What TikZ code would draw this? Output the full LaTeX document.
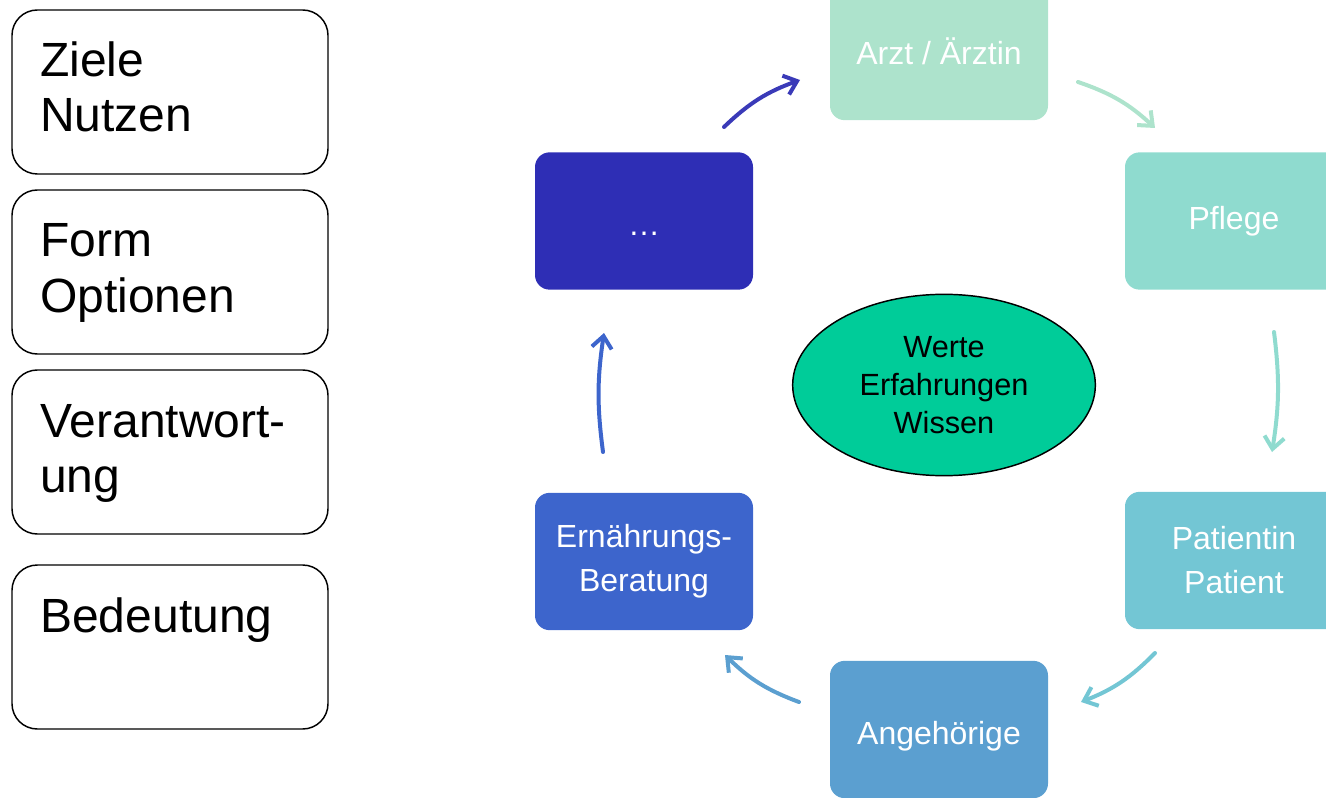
\documentclass[tikz,border=0pt]{standalone}
\usepackage{fontspec}
\setmainfont{Liberation Sans}
\usetikzlibrary{arrows.meta,shapes.geometric}
\definecolor{cArzt}{HTML}{ADE3CC}
\definecolor{cPflege}{HTML}{8FDBCF}
\definecolor{cPat}{HTML}{73C6D4}
\definecolor{cAng}{HTML}{5B9FD0}
\definecolor{cErn}{HTML}{3D65CC}
\definecolor{cDots}{HTML}{2E2EB5}
\definecolor{cDotsArrow}{HTML}{3A3AB8}
\definecolor{cEll}{HTML}{00CC99}
\newcommand{\lowerby}[2]{\raisebox{0pt}[0pt][0pt]{\raisebox{-#1}{#2}}}
\begin{document}
\begin{tikzpicture}[x=0.75pt,y=-0.75pt,
  leftbox/.style={draw=black, line width=1.1pt, rounded corners=19pt,
    minimum width=237pt, minimum height=123pt, inner sep=0pt},
  lefttext/.style={anchor=base west, inner sep=0pt, font=\fontsize{36}{41}\selectfont},
  rolebox/.style={rounded corners=11pt, minimum width=163.5pt, minimum height=103pt,
    text=white, align=center, font=\fontsize{24}{33}\selectfont, inner sep=0pt},
  cyc/.style={line width=3pt, line cap=round,
    -{Straight Barb[length=9pt,width=15pt,line width=3pt]}}]
\useasboundingbox (0,0) rectangle (1326,798);

% left boxes
\node[leftbox] (b1) at (170,92) {};
\node[leftbox] (b2) at (170,272) {};
\node[leftbox] (b3) at (170,452) {};
\node[leftbox] (b4) at (170,647) {};
\node[lefttext] (t1a) at (40,77) {Ziele};
\node[lefttext] (t1b) at (40,132) {Nutzen};
\node[lefttext] (t2a) at (40,257) {Form};
\node[lefttext] (t2b) at (40,312) {Optionen};
\node[lefttext] (t3a) at (40,437) {Verantwort-};
\node[lefttext] (t3b) at (40,492) {ung};
\node[lefttext] (t4a) at (40,632) {Bedeutung};

% cycle boxes
\node[rolebox, fill=cArzt] (arzt) at (939,51.5) {Arzt / Ärztin};
\node[rolebox, fill=cPflege] (pflege) at (1234,221) {Pflege};
\node[rolebox, fill=cPat] (pat) at (1234,560.5) {Patientin\\Patient};
\node[rolebox, fill=cAng] (ang) at (939,729.5) {\lowerby{11.5pt}{Angehörige}};
\node[rolebox, fill=cErn] (ern) at (644,561.5) {Ernährungs-\\Beratung};
\node[rolebox, fill=cDots] (dots) at (644,221) {\lowerby{11pt}{…}};

% centre
\node[ellipse, draw=black, line width=1.1pt, fill=cEll, minimum width=227pt,
  minimum height=136pt, inner sep=0pt, align=center,
  font=\fontsize{23}{28.5}\selectfont] (core) at (944,385) {Werte\\Erfahrungen\\Wissen};

% arrow ends
\coordinate (a1s) at (724,127); \coordinate (a1e) at (800,80);
\coordinate (a2s) at (1078,82); \coordinate (a2e) at (1155,128);
\coordinate (a3s) at (1274,332); \coordinate (a3e) at (1272,452);
\coordinate (a4s) at (1155,653); \coordinate (a4e) at (1081,702);
\coordinate (a5s) at (799,702); \coordinate (a5e) at (725,655);
\coordinate (a6s) at (603,452); \coordinate (a6e) at (604,333);

\draw[cyc, draw=cDotsArrow] (a1s) to[bend left=12] (a1e);
\draw[cyc, draw=cArzt] (a2s) to[bend left=12] (a2e);
\draw[cyc, draw=cPflege] (a3s) to[bend left=8] (a3e);
\draw[cyc, draw=cPat] (a4s) to[bend left=12] (a4e);
\draw[cyc, draw=cAng] (a5s) to[bend left=12] (a5e);
\draw[cyc, draw=cErn] (a6s) to[bend left=8] (a6e);
\end{tikzpicture}
\end{document}
